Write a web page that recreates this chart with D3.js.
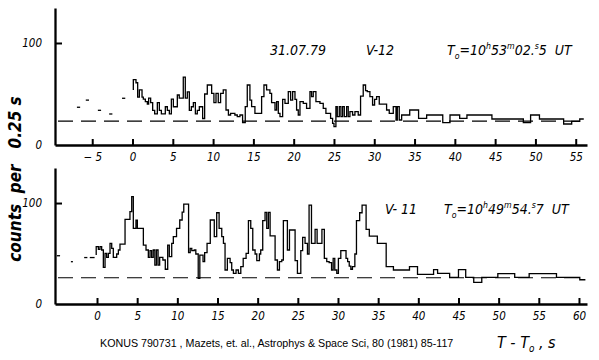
<!DOCTYPE html>
<html><head><meta charset="utf-8">
<script src="https://cdn.jsdelivr.net/npm/d3@7"></script>
<style>body{margin:0;background:#fff} svg{display:block}</style>
</head><body><svg id="c" width="599" height="360"></svg>
<script>
// ---------- DATA ----------
// V-12 (upper panel): step histogram, left edges (s) and counts per 0.25 s
const v12From = [0.1, 0.43, 0.64, 0.85, 1.18, 1.34, 1.59, 1.84, 2.0, 2.25, 2.5, 2.75, 3.08, 3.33, 3.58, 4.07, 4.32, 4.57, 4.82, 5.07, 5.56, 5.8, 6.3, 6.55, 6.8, 7.05, 7.3, 7.55, 7.8, 8.04, 8.29, 8.7, 8.95, 9.28, 9.82, 10.1, 10.36, 10.64, 10.93, 11.26, 11.6, 11.9, 12.17, 12.7, 13.0, 13.33, 13.66, 13.99, 14.24, 14.57, 14.78, 15.19, 16.02, 16.31, 16.64, 17.05, 17.26, 17.68, 17.88, 18.09, 18.3, 18.63, 18.92, 19.33, 19.62, 19.87, 20.16, 20.36, 20.57, 20.78, 21.19, 21.6, 22.02, 22.22, 22.43, 22.76, 23.26, 23.67, 24.0, 24.58, 24.83, 25.0, 25.24, 25.41, 25.66, 25.86, 26.07, 26.28, 26.57, 26.77, 26.98, 27.31, 27.6, 28.01, 28.3, 28.63, 28.92, 29.13, 29.46, 29.79, 30.04, 30.29, 30.62, 31.53, 31.86, 32.36, 32.7, 32.86, 33.1, 33.4, 34.4, 35.5, 36.5, 38.5, 39.4, 40.6, 41.5, 44.6, 48.5, 49.4, 50.5, 53.5, 54.5, 55.5];
const v12Counts = [64, 61, 47, 54, 47, 45, 42.5, 40, 46, 41.5, 34, 30.5, 41.5, 34, 30.5, 37.5, 34, 30.5, 45, 37.5, 49, 46, 66.5, 46, 52, 34, 37.5, 41.5, 30.5, 34, 37.5, 26, 50, 58.8, 50.7, 41.5, 50.7, 41.5, 50.7, 54, 34.3, 29.4, 31, 29.4, 27.8, 29.4, 21.9, 37.6, 58.8, 44, 37.6, 31, 47.4, 58.8, 54, 50.7, 41.5, 34.3, 42.5, 31, 27.8, 44.8, 40.8, 52.3, 44, 52.3, 44.8, 34.3, 29.4, 42.5, 40.8, 35.9, 52.3, 47.4, 52.3, 42.5, 40.8, 35.9, 31, 26.1, 21.2, 18, 37.6, 27.8, 37.6, 27.8, 37.6, 27.8, 37.6, 27.8, 32.7, 29.4, 32.7, 29.4, 48, 58.8, 53.3, 52.3, 47.4, 39.2, 44.8, 47.4, 40, 34.3, 31, 37.6, 24.5, 37.6, 24.5, 29.4, 34.3, 26.1, 29.4, 22, 29.4, 26.1, 29.4, 25.5, 22, 29.4, 25.5, 20.6, 23.2, 25.5];
const v12End = 56;
const v12StartLevel = 54;
const v12Background = 23.5;
// pre-trigger averages (short dashes)
const v12PreFrom = [-6.9, -5.8, -4.3, -2.9, -1.3];
const v12PreTo = [-6.5, -5.4, -3.9, -2.5, -0.9];
const v12PreCounts = [37, 44, 34, 30.4, 45.8];

// V-11 (lower panel)
const v11From = [-0.1, 0.17, 0.37, 0.58, 0.79, 1.0, 1.2, 1.41, 1.62, 1.83, 2.03, 2.45, 2.66, 2.86, 3.49, 4.1, 4.32, 4.52, 4.85, 5.02, 5.77, 6.1, 6.39, 6.6, 6.8, 7.0, 7.2, 7.4, 7.6, 7.8, 8.2, 8.5, 8.8, 9.0, 9.3, 9.5, 9.9, 10.3, 10.6, 10.8, 11.4, 11.6, 11.8, 12.1, 12.3, 12.6, 12.8, 13.2, 13.4, 13.7, 14.1, 14.6, 14.9, 15.2, 15.53, 15.74, 15.94, 16.23, 16.57, 16.77, 16.98, 17.31, 17.6, 17.9, 18.2, 18.56, 18.85, 19.14, 19.39, 19.68, 19.89, 20.22, 20.38, 20.63, 20.92, 21.13, 21.34, 21.55, 22.17, 22.46, 22.71, 23.0, 23.2, 23.7, 23.96, 24.66, 24.95, 25.37, 25.6, 25.9, 26.2, 26.4, 26.7, 27.15, 27.4, 28.0, 28.3, 28.6, 28.9, 29.2, 29.4, 29.6, 29.85, 30.05, 30.35, 31.0, 31.2, 31.4, 31.6, 31.8, 32.1, 32.3, 32.7, 33.0, 33.5, 33.9, 34.9, 36.0, 36.9, 38.9, 39.9, 41.9, 42.4, 43.9, 45.0, 45.9, 46.9, 47.9, 49.9, 52.0, 53.8, 57.2, 60.1];
const v11Counts = [56.8, 54.2, 56.8, 53.5, 36.3, 50.2, 46.2, 50.2, 60, 55, 46.2, 49.5, 53.5, 59.4, 83.9, 91.4, 106.3, 75, 83, 75, 58.4, 53.5, 46.2, 52.8, 46.2, 53.5, 38.6, 53.5, 38.6, 46.2, 43.6, 34.4, 58.4, 46.9, 60, 66.7, 75, 83.2, 91, 99, 50.9, 55, 52.8, 53.5, 49.5, 25.4, 48.5, 41.9, 50.9, 60, 83.2, 66.7, 90.4, 75, 66.7, 60, 33.7, 45.2, 41, 33.7, 30.4, 33.7, 30.4, 37, 45.2, 50.2, 82.5, 75, 53.5, 49.5, 42.9, 49.5, 53.5, 82.5, 90.8, 75, 90.8, 67.4, 43.6, 33.7, 41.9, 43.6, 82.5, 53.5, 73.3, 42.9, 30.4, 52.8, 66, 60, 49.5, 98, 60, 74, 60, 74, 45.2, 41.9, 41, 33.7, 45.2, 33.7, 30.4, 45.2, 52.8, 45.2, 41.9, 37.6, 34.4, 37, 49.5, 82.5, 90.4, 98, 74, 67.3, 60, 37, 33.7, 37, 29.4, 34, 30.4, 26.4, 34, 26.4, 21.5, 26.4, 30, 26.4, 30, 26.4, 24];
const v11End = 60.8;
const v11StartLevel = 48.5;
const v11Background = 26;
const v11PreFrom = [-5.0, -3.25, -1.6, -0.9];
const v11PreTo = [-4.6, -3.0, -1.2, -0.3];
const v11PreCounts = [47.8, 41.9, 46, 46];

const topTicks = [-5, 0, 5, 10, 15, 20, 25, 30, 35, 40, 45, 50, 55];
const botTicks = [0, 5, 10, 15, 20, 25, 30, 35, 40, 45, 50, 55, 60];
const yTicks = [0, 100];

// ---------- DRAWING ----------
const svg = d3.select('#c');
const NARROW = "'Liberation Sans Narrow','DejaVu Sans Condensed',sans-serif";

function panel(cfg) {
  const x = d3.scaleLinear().domain(cfg.xDomain).range([55, 587]);
  const y = d3.scaleLinear().domain([0, cfg.yMax]).range([cfg.y0, cfg.yTop]);
  const g = svg.append('g');

  // background level (dashed)
  g.append('line')
    .attr('x1', 58).attr('x2', 585)
    .attr('y1', y(cfg.bg)).attr('y2', y(cfg.bg))
    .attr('stroke', '#000').attr('stroke-width', 1.2)
    .attr('stroke-dasharray', '15,8');

  // pre-trigger dashes
  g.selectAll('line.pre').data(cfg.preFrom.map((f, i) => [f, cfg.preTo[i], cfg.preCounts[i]]))
    .join('line').attr('class', 'pre')
    .attr('x1', d => x(d[0])).attr('x2', d => x(d[1]))
    .attr('y1', d => y(d[2])).attr('y2', d => y(d[2]))
    .attr('stroke', '#000').attr('stroke-width', 1.3);

  // histogram
  const n = Math.min(cfg.from.length, cfg.counts.length);
  const pts = [[cfg.from[0], cfg.startLevel]];
  for (let i = 0; i < n; i++) pts.push([cfg.from[i], cfg.counts[i]]);
  pts.push([cfg.end, cfg.counts[n - 1]]);
  const line = d3.line().x(d => x(d[0])).y(d => y(d[1])).curve(d3.curveStepAfter);
  g.append('path').attr('d', line(pts))
    .attr('fill', 'none').attr('stroke', '#000').attr('stroke-width', 1.3);

  // x axis
  const xa = g.append('g').attr('transform', `translate(0,${cfg.y0})`)
    .call(d3.axisBottom(x).tickValues(cfg.ticks).tickSizeInner(-6).tickSizeOuter(0).tickPadding(8)
      .tickFormat(d => d < 0 ? '\u2212 ' + (-d) : String(d)));
  // y axis
  const ya = g.append('g').attr('transform', 'translate(55,0)')
    .call(d3.axisLeft(y).tickValues(yTicks).tickSizeInner(-7).tickSizeOuter(0).tickPadding(13));
  [xa, ya].forEach(a => {
    a.select('.domain').attr('stroke-width', 2.3).attr('stroke', '#000');
    a.selectAll('.tick line').attr('stroke-width', 2).attr('stroke', '#000');
    a.selectAll('.tick text').attr('font-family', NARROW).attr('font-style', 'italic')
      .attr('font-size', 11.5).attr('fill', '#000');
  });
  ya.selectAll('.tick').filter(d => d === 0).select('line').remove();
  return { x, y, g };
}

panel({ xDomain: [-9.62, 56.4], yMax: 134.3, y0: 145, yTop: 8, bg: v12Background,
  from: v12From, counts: v12Counts, end: v12End, startLevel: v12StartLevel,
  preFrom: v12PreFrom, preTo: v12PreTo, preCounts: v12PreCounts, ticks: topTicks });
panel({ xDomain: [-5.23, 61.0], yMax: 134.7, y0: 304, yTop: 168, bg: v11Background,
  from: v11From, counts: v11Counts, end: v11End, startLevel: v11StartLevel,
  preFrom: v11PreFrom, preTo: v11PreTo, preCounts: v11PreCounts, ticks: botTicks });

// annotations
function anno(xp, yp, parts, size) {
  const t = svg.append('text').attr('x', xp).attr('y', yp)
    .attr('font-family', NARROW).attr('font-style', 'italic').attr('font-size', size).attr('fill', '#000');
  parts.forEach(p => {
    const s = t.append('tspan').text(p[0]);
    if (p[1] === 'sup') s.attr('font-size', size * 0.62).attr('dy', -size * 0.4);
    if (p[1] === 'sub') s.attr('font-size', size * 0.62).attr('dy', size * 0.25);
    if (p[1] === 'back') s.attr('dy', p[2]);
  });
  return t;
}
anno(270, 55, [['31.07.79']], 14);
anno(366, 55, [['V-12']], 14);
anno(447, 55, [['T'], ['o', 'sub'], ['=10', 'back', -3.5], ['h', 'sup'], ['53', 'back', 5.6], ['m', 'sup'], ['02.', 'back', 5.6], ['s', 'sup'], ['5', 'back', 5.6], ['\u00a0\u00a0UT']], 14);
anno(385, 214, [['V- 11']], 14);
anno(444, 214, [['T'], ['o', 'sub'], ['=10', 'back', -3.5], ['h', 'sup'], ['49', 'back', 5.6], ['m', 'sup'], ['54.', 'back', 5.6], ['s', 'sup'], ['7', 'back', 5.6], ['\u00a0\u00a0UT']], 14);

// y label
svg.append('text').attr('transform', 'translate(21,179) rotate(-90)')
  .attr('text-anchor', 'middle')
  .attr('font-family', NARROW).attr('font-style', 'italic').attr('font-weight', 'bold')
  .attr('font-size', 17).attr('fill', '#000')
  .text('counts\u00a0\u00a0per\u00a0\u00a0\u00a00.25 s');

// footer
svg.append('text').attr('x', 100).attr('y', 347)
  .attr('font-family', "'Liberation Sans',Arial,sans-serif").attr('font-size', 10.7).attr('fill', '#000')
  .text('KONUS 790731 , Mazets, et. al., Astrophys & Space Sci, 80 (1981) 85-117');
anno(497, 348, [['T - T'], ['o', 'sub'], [' , s', 'back', -4]], 16);
</script></body></html>
